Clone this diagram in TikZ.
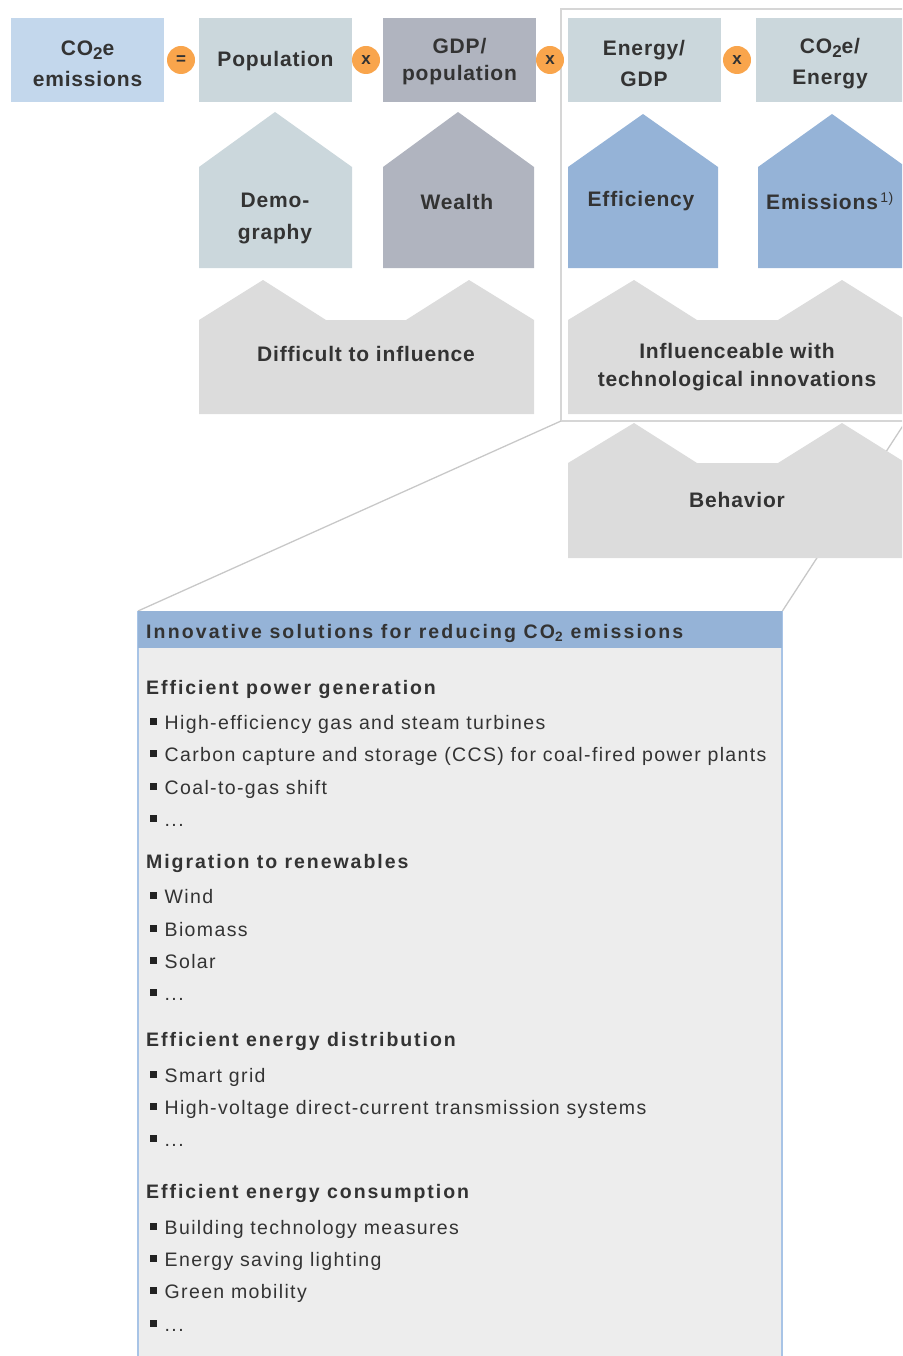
\documentclass[tikz,border=0pt]{standalone}
\usepackage{fontspec}
\setmainfont{Liberation Sans}
\newfontfamily\topfont[LetterSpace=4]{Liberation Sans}
\newfontfamily\headfont[LetterSpace=10]{Liberation Sans}
\newfontfamily\titlefont[LetterSpace=11]{Liberation Sans}
\newfontfamily\bodyfont[LetterSpace=7]{Liberation Sans}

\definecolor{ink}{HTML}{333333}
\definecolor{co2blue}{HTML}{C3D7EC}
\definecolor{slate}{HTML}{CBD7DC}
\definecolor{steel}{HTML}{B0B4BF}
\definecolor{effblue}{HTML}{95B3D7}
\definecolor{lgrey}{HTML}{DCDCDC}
\definecolor{framecol}{HTML}{D6D6D6}
\definecolor{linecol}{HTML}{C8C8C8}
\definecolor{boxfill}{HTML}{EDEDED}
\definecolor{boxborder}{HTML}{A8C4E6}
\definecolor{opcol}{HTML}{F9A54C}
\definecolor{bulcol}{HTML}{222222}

\newcommand\subtwo{\raisebox{-0.35ex}{\fontsize{17}{17}\selectfont 2}}
\newcommand\bul{\textcolor{bulcol}{\rule[3.7pt]{7pt}{7pt}}\hspace{7.5pt}}

\tikzset{
  factorbox/.style={minimum width=153pt, minimum height=84pt, inner sep=0, draw=none},
  toptext/.style={font=\topfont\bfseries\fontsize{21}{31}\selectfont, text=ink, align=center, inner sep=0},
  opsign/.style={circle, fill=opcol, minimum size=28pt, inner sep=0,
    font=\topfont\bfseries\fontsize{17}{17}\selectfont, text=ink},
  headline/.style={font=\headfont\bfseries\fontsize{19.5}{24}\selectfont, text=ink, anchor=base west, inner sep=0},
  itemline/.style={font=\bodyfont\fontsize{19.5}{24}\selectfont, text=ink, anchor=base west, inner sep=0},
  guide/.style={draw=linecol, line width=1.3pt},
}

\begin{document}
\begin{tikzpicture}[x=1pt, y=-1pt]
\useasboundingbox (0,0) rectangle (902,1356);
\clip (0,0) rectangle (902,1356);

% frame round the technology-driven factors
\draw[framecol, line width=2pt] (912,9) -- (561,9) -- (561,421) -- (912,421);
\coordinate (frameSW) at (561,421);
\coordinate (frameSE) at (906,421);

% solutions panel
\node[anchor=north west, minimum width=644pt, minimum height=760pt, inner sep=0, fill=boxfill] (sol) at (138,611) {};
\draw[guide] (frameSW) -- (sol.north west);
\draw[guide] (frameSE) -- (sol.north east);
\draw[boxborder, line width=2pt] (sol.north west) -- (sol.south west);
\draw[boxborder, line width=2pt] (sol.north east) -- (sol.south east);
\node[anchor=north west, minimum width=644pt, minimum height=37pt, inner sep=0, fill=effblue] (hdr) at (sol.north west) {};

% top row: the factors of the identity
\node[factorbox, fill=co2blue] (co2) at (87.5,60) {};
\node[factorbox, fill=slate] (pop) at (275.5,60) {};
\node[factorbox, fill=steel] (gdp) at (459.5,60) {};
\node[factorbox, fill=slate] (enr) at (644,60) {};
\node[factorbox, fill=slate] (cen) at (832.5,60) {};

\node[toptext] (tco2) at (87.5,63.5) {CO\subtwo e\\emissions};
\node[toptext] (tpop) at (275.5,61.5) {Population};
\node[toptext] (tgdp) at (459.5,62) {GDP/\\[-4pt]population};
\node[toptext] (tenr) at (644,63.5) {Energy/\\GDP};
\node[toptext] (tcen) at (830,63.5) {CO\subtwo e/\\Energy};

\node[opsign] (opeq) at (181,60) {=};
\node[opsign] (opx1) at (366,60) {x};
\node[opsign] (opx2) at (550,60) {x};
\node[opsign] (opx3) at (737,60) {x};

% second row: drivers
\fill[slate] (199,268) -- (199,167) -- (275,112) -- (352,167) -- (352,268) -- cycle;
\fill[steel] (383,268) -- (383,167) -- (458,112) -- (534,167) -- (534,268) -- cycle;
\fill[effblue] (568,268) -- (568,167) -- (643,114) -- (718,167) -- (718,268) -- cycle;
\fill[effblue] (758,268) -- (758,167) -- (832,114) -- (906,167) -- (906,268) -- cycle;

\node[toptext] (tdem) at (275,218.5) {Demo-\\[1pt]graphy};
\node[toptext] (twea) at (457,201.5) {Wealth};
\node[toptext] (teff) at (641,201.5) {Efficiency};
\node[toptext, anchor=west] (temi) at (766,201.5) {Emissions\raisebox{7pt}{\mdseries\fontsize{14}{14}\selectfont\,1)}};

% third row: how far each can be influenced
\fill[lgrey] (199,414) -- (199,320) -- (263,280) -- (326,320) -- (406,320) -- (469,280) -- (534,320) -- (534,414) -- cycle;
\fill[lgrey] (568,414) -- (568,320) -- (634,280) -- (697,320) -- (778,320) -- (842,280) -- (906,320) -- (906,414) -- cycle;
\fill[lgrey] (568,558) -- (568,463) -- (634,423) -- (697,463) -- (778,463) -- (842,423) -- (906,463) -- (906,558) -- cycle;

\node[toptext] (tdif) at (366,353.5) {Difficult to influence};
\node[toptext] (tinf) at (737,367.5) {Influenceable with\\[-3pt]technological innovations};
\node[toptext] (tbeh) at (737,499.5) {Behavior};

% solutions list
\node[headline, font=\titlefont\bfseries\fontsize{19.5}{24}\selectfont] (thdr) at (146,638) {Innovative solutions for reducing CO\textsubscript{2} emissions};

\node[headline] (h1) at (146,694) {Efficient power generation};
\node[itemline] (h1a) at (150,729) {\bul High-efficiency gas and steam turbines};
\node[itemline] (h1b) at (150,761) {\bul Carbon capture and storage (CCS) for coal-fired power plants};
\node[itemline] (h1c) at (150,794) {\bul Coal-to-gas shift};
\node[itemline] (h1d) at (150,826) {\bul ...};

\node[headline] (h2) at (146,868) {Migration to renewables};
\node[itemline] (h2a) at (150,903) {\bul Wind};
\node[itemline] (h2b) at (150,936) {\bul Biomass};
\node[itemline] (h2c) at (150,968) {\bul Solar};
\node[itemline] (h2d) at (150,1000) {\bul ...};

\node[headline] (h3) at (146,1046) {Efficient energy distribution};
\node[itemline] (h3a) at (150,1082) {\bul Smart grid};
\node[itemline] (h3b) at (150,1114) {\bul High-voltage direct-current transmission systems};
\node[itemline] (h3c) at (150,1146) {\bul ...};

\node[headline] (h4) at (146,1198) {Efficient energy consumption};
\node[itemline] (h4a) at (150,1234) {\bul Building technology measures};
\node[itemline] (h4b) at (150,1266) {\bul Energy saving lighting};
\node[itemline] (h4c) at (150,1298) {\bul Green mobility};
\node[itemline] (h4d) at (150,1331) {\bul ...};
\end{tikzpicture}
\end{document}
